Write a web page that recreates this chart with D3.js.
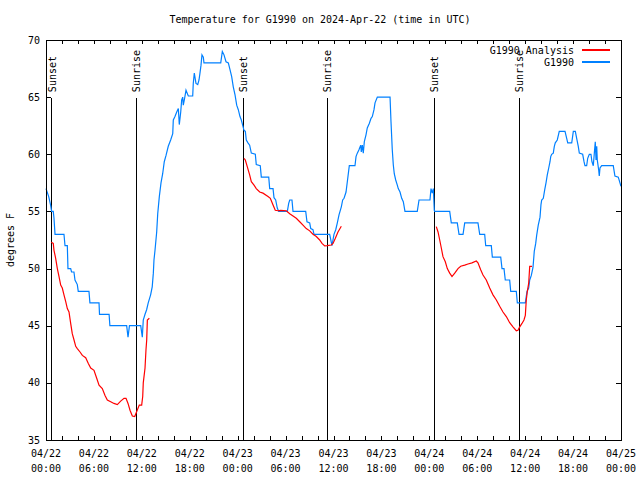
<!DOCTYPE html>
<html>
<head>
<meta charset="utf-8">
<script src="https://cdn.jsdelivr.net/npm/d3@7"></script>
<style>
  html, body { margin: 0; padding: 0; background: #fff; }
  svg { display: block; }
  text { font-family: "DejaVu Sans Mono", "Liberation Mono", monospace; font-size: 10px; fill: #000; }
</style>
</head>
<body>
<svg id="chart" width="640" height="480"></svg>
<script>
// ---- Data (hours after 2024-04-22 00:00 UTC, degrees F) ----
const titleText = "Temperature for G1990 on 2024-Apr-22 (time in UTC)";
const yLabelText = "degrees F";
const seriesNames = ["G1990 Analysis", "G1990"];
const yTickValues = [35, 40, 45, 50, 55, 60, 65, 70];

const obsHours = [
  0.0, 0.34, 0.59, 0.7, 0.91, 1.0, 1.13, 2.25, 2.38, 2.67, 2.75, 3.09, 3.2, 3.5, 3.63, 3.92, 4.04, 5.38, 5.5, 6.64, 6.7, 7.9, 8.0, 10.1, 10.27, 10.45, 11.86, 12.06,
  12.18, 12.4, 12.6, 12.8, 13.1, 13.3, 13.44, 13.52, 13.65, 13.86, 13.99, 14.19, 14.4, 14.61, 14.81, 15.03, 15.31, 15.61, 15.87, 15.94, 16.15, 16.37, 16.57, 16.69, 16.87, 16.99, 17.12, 17.19, 17.32, 17.53, 17.82, 18.37, 18.44, 18.57, 18.78, 19.0, 19.16, 19.28, 19.41, 19.53, 19.7, 19.78, 21.88, 22.08, 22.29, 22.54, 22.83, 23.04, 23.25, 23.45, 23.67, 23.88, 24.08, 24.29, 24.46,
  24.79, 24.96, 25.08, 25.29, 25.5, 25.71, 26.21, 26.33, 26.83, 26.96, 27.89, 28.01, 28.43, 28.55, 28.76, 28.96, 29.14, 30.22, 30.39, 30.52, 30.8, 30.93, 32.52, 32.68, 33.02, 33.15, 33.43, 33.56, 35.52, 35.81, 36.06, 36.28, 36.48, 36.69, 36.98,
  37.15, 37.32, 37.57, 37.73, 37.98, 38.69, 38.82, 38.98, 39.19, 39.41, 39.48, 39.61, 39.73, 39.86, 40.07, 40.23, 40.48, 40.7, 40.86, 41.07, 41.2, 41.49, 43.08, 43.2, 43.36, 43.49, 43.61, 43.79, 43.99, 44.11, 44.33, 44.54, 44.74, 44.95, 46.49, 46.71, 48.08, 48.21, 48.37, 48.5, 48.62,
  48.67, 50.55, 50.75, 51.5, 51.72, 52.22, 52.43, 54.09, 54.31, 54.93, 55.06, 55.76, 55.89, 56.94, 57.1, 57.35, 57.51, 58.06, 58.19, 58.89, 59.02, 60.02, 60.23, 60.44, 60.57, 60.77, 60.98,
  61.14, 61.32, 61.44, 61.64, 61.86, 61.98, 62.07, 62.27, 62.45, 62.61, 62.77, 62.95, 63.11, 63.2, 63.32, 63.52, 63.65, 63.77, 64.02, 64.27, 64.99, 65.2, 65.33, 65.83, 66.03, 66.28, 66.45, 66.65, 66.78, 67.2, 67.37, 67.49, 67.7, 67.83, 68.03, 68.24, 68.36, 68.53, 68.66, 68.78, 68.87, 68.96, 69.03, 69.21, 69.28, 69.37, 69.58, 71.03, 71.24, 71.66, 71.87, 72.0
];
const obsTemps = [
  57, 56.3, 55.5, 55, 55, 54.4, 53, 53, 52, 52, 50, 50, 49.7, 49.7, 49, 48.6, 48, 48, 47, 47, 46, 46, 45, 45, 44, 45, 45, 44,
  45.5, 46, 46.4, 47, 47.7, 48.4, 49.6, 50.75, 51.6, 53.2, 54.8, 56.3, 57.5, 58.3, 59.35, 59.9, 60.7, 61.25, 61.8, 63.0, 63.3, 63.7, 64.0, 62.6, 63.7, 64.75, 65.0, 64.3, 64.75, 65.6, 65.1, 65.1, 66.2, 67.1, 66.2, 66.1, 66.5, 67.1, 67.8, 68.7, 68.5, 68, 68, 69, 68.7, 68.1, 68, 67.4, 66.8, 65.9, 65.2, 64.3, 63.9, 63.3, 63.0,
  62.1, 62.0, 61.25, 61.0, 60.8, 60.1, 60.0, 59.1, 59, 58, 58, 57, 57, 56.2, 56, 55.3, 55, 55, 55.7, 56, 56, 55, 55, 54.1, 54, 53.5, 53.4, 53, 53, 52, 53, 53.4, 54, 54.7, 55.4,
  56, 56.15, 56.7, 57.6, 59, 59, 59.8, 60.1, 60.4, 60.8, 60.2, 60.8, 60.1, 61.1, 61.7, 62.3, 62.7, 63.15, 63.3, 63.9, 64.5, 65, 65, 62.85, 60.4, 59.06, 58.3, 57.75, 57.3, 57, 56.7, 56.15, 55.85, 55, 55, 56, 56, 57, 56.6, 57, 55.1,
  55, 55, 54, 54, 53, 53, 54, 54, 53, 53, 52, 52, 51, 51, 50, 50, 49, 49, 48, 48, 47, 47, 48, 48.3, 49, 49.4, 50.1,
  51.5, 52.2, 52.9, 53.8, 54.5, 55.6, 56, 56.15, 56.9, 57.5, 58.2, 58.8, 59.35, 59.8, 60.0, 60.1, 60.7, 61, 61.25, 62, 62, 61.4, 61, 61, 62, 62, 61.4, 60.7, 60.1, 60, 59.35, 59, 59, 59.65, 60, 60, 59.35, 59, 60.1, 61.1, 59.5, 60.7, 59.5, 58.6, 58.1, 58.8, 59, 59, 58.1, 58, 57.5, 57.2
];

// Analysis series: null marks a gap between nights
const anaHours = [
  0.66, 0.91, 1.0, 1.21, 1.42, 1.63, 1.84, 2.04, 2.25, 2.47, 2.67, 2.88, 3.09, 3.29, 3.51, 3.72, 3.92, 4.26, 4.55, 4.97, 5.3, 5.6, 6.01, 6.35, 6.64, 7.05, 7.39, 7.68, 8.1, 8.51, 8.93, 9.35, 9.77, 10.02, 10.27, 10.52, 10.81, 11.11, 11.36, 11.68, 11.98, 12.11, 12.18, 12.4, 12.52, 12.61, 12.69, 12.94,
  null,
  24.79, 24.96, 25.21, 25.5, 25.71, 26.05, 26.33, 26.76, 27.17, 27.8, 28.09, 28.43, 28.71, 29.05, 29.39, 30.09, 30.52, 30.93, 31.34, 31.77, 32.18, 32.59, 33.02, 33.43, 33.85, 34.27, 34.56, 34.9, 35.22, 35.72, 35.94, 36.23, 36.56, 36.98,
  null,
  48.87, 49.09, 49.3, 49.5, 49.71, 50.0, 50.25, 50.55, 50.84, 51.18, 51.59, 51.93, 52.43, 52.84, 53.34, 53.88, 54.09, 54.43, 54.72, 55.13, 55.56, 55.97, 56.39, 56.81, 57.22, 57.64, 58.06, 58.47, 58.89, 59.1, 59.32, 59.6, 59.85, 60.02, 60.14, 60.27, 60.44, 60.57, 60.86
];
const anaTemps = [
  52.3, 52.2, 51.6, 50.9, 50.0, 49.3, 48.56, 48.3, 47.7, 47.1, 46.5, 46.2, 45.2, 44.3, 43.75, 43.2, 43.0, 42.7, 42.4, 42.2, 41.7, 41.3, 41.1, 40.4, 39.8, 39.5, 38.9, 38.5, 38.35, 38.2, 38.1, 38.4, 38.65, 38.65, 38.2, 37.6, 37.1, 37.05, 37.5, 38.06, 38.06, 38.8, 40.0, 41.3, 42.9, 43.75, 45.5, 45.65,
  null,
  59.65, 59.5, 58.9, 58.2, 57.6, 57.3, 57.0, 56.7, 56.6, 56.3, 56.15, 55.56, 55.1, 55.06, 55.1, 55.06, 54.8, 54.6, 54.4, 54.1, 53.8, 53.5, 53.3, 53.0, 52.8, 52.5, 52.2, 51.98, 52, 52.06, 52.2, 52.65, 53.2, 53.7,
  null,
  53.67, 53.2, 52.5, 51.8, 51.04, 50.6, 50.0, 49.6, 49.3, 49.6, 50.0, 50.2, 50.3, 50.4, 50.5, 50.66, 50.5, 49.9, 49.44, 49.0, 48.3, 47.7, 47.25, 46.7, 46.2, 45.8, 45.26, 44.9, 44.56, 44.6, 44.9, 45.2, 45.5, 45.9, 47.25, 48.0, 48.7, 50.2, 50.2
];

const sunEventNames = ["Sunset", "Sunrise", "Sunset", "Sunrise", "Sunset", "Sunrise"];
const sunEventHours = [0.71, 11.31, 24.71, 35.22, 48.62, 59.27];

// ---- Layout ----
const W = 640, H = 480;
const margin = { left: 46, right: 19, top: 40, bottom: 40 };
const svg = d3.select("#chart");
const base = Date.UTC(2024, 3, 22, 0, 0, 0);
const toDate = h => new Date(base + h * 3600e3);

const x = d3.scaleUtc().domain([toDate(0), toDate(72)]).range([margin.left, W - margin.right]);
const y = d3.scaleLinear().domain([35, 70]).range([H - margin.bottom, margin.top]);

const obs = obsHours.map((h, i) => ({ t: toDate(h), v: obsTemps[i] }));
const ana = anaHours.map((h, i) => ({ t: h == null ? null : toDate(h), v: anaTemps[i] }));

// Title
svg.append("text").attr("x", 320).attr("y", 23).attr("text-anchor", "middle").text(titleText);

// Y label
svg.append("text").attr("transform", "translate(14,240) rotate(-90)").attr("text-anchor", "middle").text(yLabelText);

// Axes
const majorTicks = d3.utcHour.every(6).range(toDate(0), toDate(72.01));
const minorTicks = d3.utcHour.every(2).range(toDate(0), toDate(72.01));
const x0 = margin.left, x1 = W - margin.right, y0 = H - margin.bottom, y1 = margin.top;

function styleAxis(g) {
  g.select(".domain").remove();
  g.selectAll("line").attr("stroke", "#000").attr("shape-rendering", "crispEdges");
}
svg.append("g").attr("transform", `translate(0,${y0})`)
  .call(d3.axisBottom(x).tickValues(minorTicks).tickSize(-4).tickFormat(""))
  .call(styleAxis);
svg.append("g").attr("transform", `translate(0,${y1})`)
  .call(d3.axisTop(x).tickValues(minorTicks).tickSize(-4).tickFormat(""))
  .call(styleAxis);
svg.append("g").attr("transform", `translate(${x0},0)`)
  .call(d3.axisLeft(y).tickValues(yTickValues).tickSize(-5).tickFormat(""))
  .call(styleAxis);
svg.append("g").attr("transform", `translate(${x1},0)`)
  .call(d3.axisRight(y).tickValues(yTickValues).tickSize(-5).tickFormat(""))
  .call(styleAxis);

// X tick labels (two lines)
const fmtDay = d3.utcFormat("%m/%d"), fmtTime = d3.utcFormat("%H:%M");
const xl = svg.append("g");
majorTicks.forEach(d => {
  xl.append("text").attr("x", x(d)).attr("y", 457).attr("text-anchor", "middle").text(fmtDay(d));
  xl.append("text").attr("x", x(d)).attr("y", 472).attr("text-anchor", "middle").text(fmtTime(d));
});
// Y tick labels
yTickValues.forEach(v => {
  svg.append("text").attr("x", 40).attr("y", y(v) + 3.5).attr("text-anchor", "end").text(v);
});

// Sunrise / sunset markers
sunEventHours.forEach((h, i) => {
  const xx = x(toDate(h));
  svg.append("line").attr("x1", xx).attr("x2", xx).attr("y1", y(65) + 1).attr("y2", y0)
    .attr("stroke", "#000").attr("shape-rendering", "crispEdges");
  svg.append("text").attr("transform", `translate(${xx + 4},${y(65) - 5}) rotate(-90)`)
    .attr("text-anchor", "start").text(sunEventNames[i]);
});

// Lines
const line = d3.line().defined(d => d.t != null && d.v != null).x(d => x(d.t)).y(d => y(d.v));
svg.append("path").datum(obs).attr("d", line).attr("fill", "none").attr("stroke", "#0080ff").attr("stroke-width", 1.2);
svg.append("path").datum(ana).attr("d", line).attr("fill", "none").attr("stroke", "#ff0000").attr("stroke-width", 1.2);

// Frame
svg.append("rect").attr("x", x0).attr("y", y1).attr("width", x1 - x0).attr("height", y0 - y1)
  .attr("fill", "none").attr("stroke", "#000").attr("shape-rendering", "crispEdges");

// Legend
const legendColors = ["#ff0000", "#0080ff"];
seriesNames.forEach((n, i) => {
  const ly = 50 + i * 12;
  svg.append("text").attr("x", 574).attr("y", ly + 3.5).attr("text-anchor", "end").text(n);
  svg.append("line").attr("x1", 582).attr("x2", 610).attr("y1", ly).attr("y2", ly)
    .attr("stroke", legendColors[i]).attr("stroke-width", 1.2).attr("shape-rendering", "crispEdges");
});
</script>
</body>
</html>
